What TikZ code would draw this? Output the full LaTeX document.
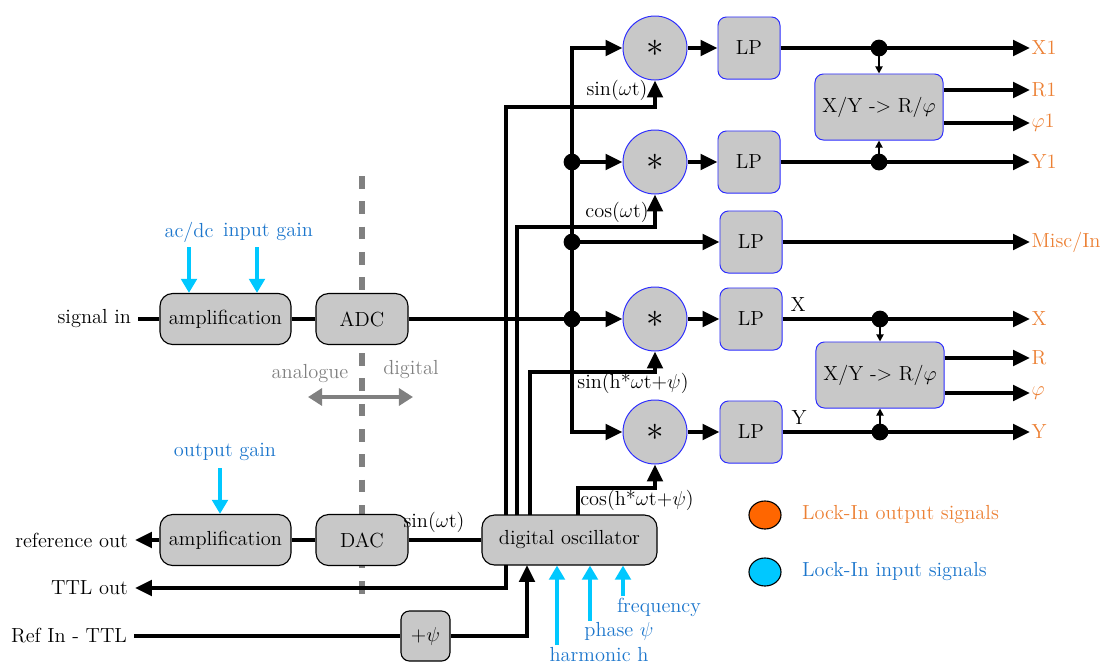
\documentclass[tikz,border=0pt]{standalone}
\usepackage{amsmath}
\usepackage{amssymb}
\usepackage{fontspec}
\usepackage{xcolor}
\usepackage{tikz}
\usetikzlibrary{arrows.meta,shapes.geometric}
\definecolor{outorange}{RGB}{236,128,52}
\definecolor{inblue}{RGB}{28,118,204}
\definecolor{incyan}{RGB}{0,200,255}
\definecolor{legorange}{RGB}{255,102,0}
\definecolor{boxgray}{RGB}{200,200,200}
\definecolor{rimblue}{RGB}{45,45,255}
\definecolor{divgray}{RGB}{128,128,128}

\begin{document}
\begin{tikzpicture}
    [
    x=0.025cm, y=-0.025cm
    , >={Triangle[length=12pt,width=11pt]}
    , wire/.style = {line width=2.6pt}
    , tick/.style = {line width=1.2pt,-{Triangle[length=5pt,width=5pt]}}
    , ctrl/.style = {incyan,line width=2.8pt,-{Triangle[length=10pt,width=11pt]}}
    , blk/.style = {draw=black,line width=0.8pt,fill=boxgray,rounded corners=9pt,minimum height=1.275cm,inner sep=2pt}
    , lp/.style = {draw=rimblue,line width=0.7pt,fill=boxgray,rounded corners=6pt,minimum width=1.55cm,minimum height=1.55cm}
    , conv/.style = {lp,minimum width=3.2cm,minimum height=1.65cm}
    , mult/.style = {circle,draw=rimblue,line width=0.7pt,fill=boxgray,minimum size=1.6cm,inner sep=0pt,font=\fontsize{24}{24}\selectfont}
    , dot/.style = {minimum width=0.42cm,inner sep=0pt,line width=0pt,fill,circle,black}
    , outlbl/.style = {anchor=west,inner sep=1pt,text=outorange}
    , inlbl/.style = {text=inblue}
    , legdot/.style = {ellipse,draw=black,line width=0.8pt,minimum width=0.8cm,minimum height=0.7cm}
    ]
\fontsize{14.5}{16}\selectfont
\useasboundingbox (0,0) rectangle (1101,666);

% analogue / digital border
\coordinate (divTop) at (362,176);
\coordinate (divBot) at (362,598);
\draw[divgray,line width=4.5pt,dash pattern=on 9pt off 9pt] (divTop) -- (divBot);
\node[text=divgray] (ana) at (310,374) {analogue};
\node[text=divgray] (dig) at (411,370) {digital};
\coordinate (anaL) at (308,397);
\coordinate (digR) at (413,397);
\draw[divgray,line width=3pt,{Triangle[length=10pt,width=12pt]}-{Triangle[length=10pt,width=12pt]}] (anaL) -- (digR);

% input side
\node[blk,minimum width=3.275cm] (ampIn) at (225.5,319) {amplification};
\node[blk,minimum width=2.3cm] (adc) at (362,319) {ADC};
\node[anchor=east] (sigIn) at (138,319) {signal in};
\draw[wire] (sigIn) -- (ampIn);
\draw[wire] (ampIn) -- (adc);

\node[inlbl] (acdc) at (189,232) {ac/dc};
\node[inlbl] (gainIn) at (268,232) {input gain};
\coordinate (acdcTop) at (189,247);
\coordinate (gainInTop) at (257,247);
\draw[ctrl] (acdcTop) -- (acdcTop |- ampIn.north);
\draw[ctrl] (gainInTop) -- (gainInTop |- ampIn.north);

% reference side
\node[blk,minimum width=3.275cm] (ampOut) at (225.5,540) {amplification};
\node[blk,minimum width=2.3cm] (dac) at (362,540) {DAC};
\node[blk,minimum width=4.375cm,minimum height=1.25cm] (osc) at (569.5,540) {digital oscillator};
\node[anchor=east] (refOut) at (135,540) {reference out};
\draw[wire] (osc) -- (dac);
\draw[wire] (dac) -- (ampOut);
\draw[wire,->] (ampOut) -- (refOut);
\node (sinDac) at (434,522) {sin($\omega$t)};

\node[inlbl] (gainOut) at (225,452) {output gain};
\coordinate (gainOutTop) at (220,468);
\draw[ctrl] (gainOutTop) -- (gainOutTop |- ampOut.north);

\node[anchor=east] (ttlOut) at (135,588) {TTL out};
\coordinate (ttlTap) at (506,565);
\draw[wire,->] (ttlTap) |- (ttlOut);

\node[blk,minimum width=1.225cm,minimum height=1.25cm,rounded corners=6pt] (shift) at (425.5,636) {$+\psi$};
\node[anchor=east] (refIn) at (134,636) {Ref In - TTL};
\coordinate (refTap) at (527,565);
\draw[wire] (refIn) -- (shift);
\draw[wire,->] (shift) -| (refTap);

\node[inlbl] (harm) at (599,655) {harmonic h};
\node[inlbl] (phase) at (619,631) {phase $\psi$};
\node[inlbl] (freq) at (659,607) {frequency};
\coordinate (harmBot) at (557,645);
\coordinate (phaseBot) at (590,621);
\coordinate (freqBot) at (623,596);
\draw[ctrl] (harmBot) -- (harmBot |- osc.south);
\draw[ctrl] (phaseBot) -- (phaseBot |- osc.south);
\draw[ctrl] (freqBot) -- (freqBot |- osc.south);

% mixers and filters
\node[mult] (mulA) at (655,48) {$\ast$};
\node[mult] (mulB) at (655,162) {$\ast$};
\node[mult] (mulC) at (655,319) {$\ast$};
\node[mult] (mulD) at (655,432) {$\ast$};
\node[lp] (lpX1) at (749,48) {LP};
\node[lp] (lpY1) at (749,162) {LP};
\node[lp] (lpMisc) at (751,242) {LP};
\node[lp] (lpX) at (751,319) {LP};
\node[lp] (lpY) at (751,432) {LP};

\node[dot] (jB) at (572,162) {};
\node[dot] (jMisc) at (572,242) {};
\node[dot] (jC) at (572,319) {};
\coordinate (busTop) at (572,48);
\draw[wire,->] (adc) -- (mulC);
\draw[wire,->] (jC) -- (busTop) -- (mulA);
\draw[wire,->] (jB) -- (mulB);
\draw[wire,->] (jMisc) -- (lpMisc);
\draw[wire,->] (jC) |- (mulD);

\coordinate (oscA) at (506,515);
\coordinate (oscB) at (517,515);
\coordinate (oscC) at (530,515);
\coordinate (oscD) at (578,515);
\coordinate (bendA) at (655,107);
\coordinate (bendB) at (655,227);
\coordinate (bendC) at (655,372);
\coordinate (bendD) at (655,488);
\draw[wire,->] (oscA) |- (bendA) -- (mulA);
\draw[wire,->] (oscB) |- (bendB) -- (mulB);
\draw[wire,->] (oscC) |- (bendC) -- (mulC);
\draw[wire,->] (oscD) |- (bendD) -- (mulD);
\node (sinA) at (617,90) {sin($\omega$t)};
\node (cosB) at (617,212) {cos($\omega$t)};
\node (sinC) at (633,383) {sin(h*$\omega$t+$\psi$)};
\node (cosD) at (637,500) {cos(h*$\omega$t+$\psi$)};

\draw[wire,->] (mulA) -- (lpX1);
\draw[wire,->] (mulB) -- (lpY1);
\draw[wire,->] (mulC) -- (lpX);
\draw[wire,->] (mulD) -- (lpY);

% outputs, first pair
\node[conv] (convA) at (879,107) {X/Y -> R/$\varphi$};
\node[outlbl] (outX1) at (1030,48) {X1};
\node[outlbl] (outR1) at (1030,90) {R1};
\node[outlbl] (outPhi1) at (1030,123) {$\varphi$1};
\node[outlbl] (outY1) at (1030,162) {Y1};
\node[outlbl] (outMisc) at (1030,242) {Misc/In};
\node[dot] (dX1) at (879,48) {};
\node[dot] (dY1) at (879,162) {};
\draw[wire,->] (lpX1) -- (outX1);
\draw[wire,->] (lpY1) -- (outY1);
\draw[wire,->] (lpMisc) -- (outMisc);
\draw[wire,->] (convA.east |- outR1) -- (outR1);
\draw[wire,->] (convA.east |- outPhi1) -- (outPhi1);
\draw[tick] (dX1) -- (convA);
\draw[tick] (dY1) -- (convA);

% outputs, second pair
\node[conv] (convB) at (880,375) {X/Y -> R/$\varphi$};
\node[outlbl] (outX) at (1030,319) {X};
\node[outlbl] (outR) at (1030,358) {R};
\node[outlbl] (outPhi) at (1030,393) {$\varphi$};
\node[outlbl] (outY) at (1030,432) {Y};
\node[dot] (dX) at (880,319) {};
\node[dot] (dY) at (880,432) {};
\draw[wire,->] (lpX) -- (outX);
\draw[wire,->] (lpY) -- (outY);
\draw[wire,->] (convB.east |- outR) -- (outR);
\draw[wire,->] (convB.east |- outPhi) -- (outPhi);
\draw[tick] (dX) -- (convB);
\draw[tick] (dY) -- (convB);
\node (lblX) at (798,305) {X};
\node (lblY) at (799,418) {Y};

% legend
\node[legdot,fill=legorange] (legOut) at (765,515) {};
\node[anchor=west,text=outorange] (legOutTxt) at (795,515) {Lock-In output signals};
\node[legdot,fill=incyan] (legIn) at (765,572) {};
\node[anchor=west,text=inblue] (legInTxt) at (795,572) {Lock-In input signals};
\end{tikzpicture}
\end{document}
